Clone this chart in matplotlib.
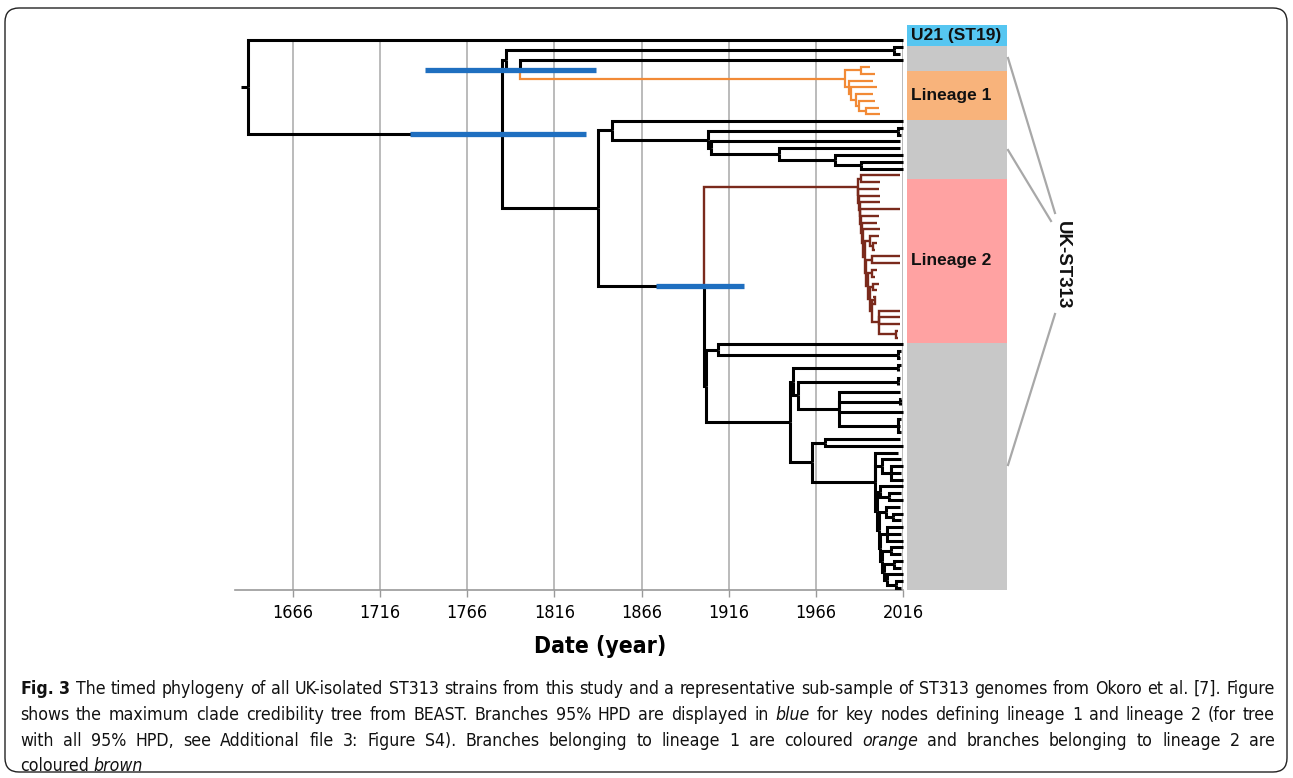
import matplotlib
matplotlib.use('Agg')
import matplotlib.pyplot as plt
from matplotlib import font_manager
from matplotlib.collections import LineCollection
from matplotlib.patches import FancyBboxPatch
from matplotlib.lines import Line2D
from matplotlib.transforms import IdentityTransform

W, H = 1293, 778

# ---------------- data ----------------
tick_years = [1666, 1716, 1766, 1816, 1866, 1916, 1966, 2016]
root_age = 1640
root_stub = 1636

# tips are sampling years, internal nodes are (age, children[, label])
u21 = 2016

lineage1 = (1983, [(1992, [1997, 2000]),
                   (1985, [1999,
                           (1986, [2001,
                                   (1989, [1999,
                                           (1991, [2000,
                                                   (1995, [2002, 2003])])])])])], 'L1')

top_group = (1788, [(2011, [2016, 2014]),
                    (1796, [2016, lineage1], 'D')])

mid_group = (1849, [2016,
                    (1904, [(2013, [2016, 2015]),
                            (1906, [2014,
                                    (1945, [2014,
                                            (1977, [2016,
                                                    (1992, [2016, 2016])])])])])])

# lineage 2: a ladder of single tips, then a nested clade
l2_spine_ages = [1990, 1990.4, 1990.8, 1991.2, 1991.6, 1992, 1992.5, 1993]
l2_spine_tips = [(1992, [2014, 2003]), 2002, 2003, 2003, 2014, 2002, 2001, 2003]
l2_inner = (1994, [
    (1997, [2002, (1999, [2001, 2000])]),
    (1995, [
        (1998, [2014, 2014]),
        (1996, [
            (1998, [2001, 2000]),
            (1997, [
                (1999, [2002, 2001]),
                (1998, [
                    (2000, [1999, 1998]),
                    (2002, [2014, 2014, 2014, (2012, [2013, 2013])])
                ])
            ])
        ])
    ])
])

m_clade = (1910, [2016, (2013, [2015, 2014])])
o_clade = (1953, [(2013, [2015, 2013]),
                  (1956, [(2013, [2014, 2013]),
                          (1979, [2014, (2014, [2015, 2014]), 2016,
                                  (2013, [2015, 2014, 2015])])])])
q_clade = (1971, [2014, 2016])
r_clade = (2000, [2013,
    (2004, [2015, (2009, [2016, 2015, 2016])]),
    (2001, [
        (2003, [2016, (2008, [2015, 2016])]),
        (2002, [
            (2006, [2014, (2010, [2016, 2015])]),
            (2003, [
                (2007, [2016, 2015, 2016]),
                (2004, [
                    (2009, [2016, 2015]),
                    (2005, [
                        (2011, [2016, 2015]),
                        (2007, [2016, (2012, [2016, 2015])])
                    ])
                ])
            ])
        ])
    ])
])

# 95% HPD bars on the key nodes
hpd_nodes = ['D', 'A', 'K']
hpd_lo = [1742, 1733, 1874]
hpd_hi = [1840, 1834, 1925]

# colour bands on the right (edges in tip units)
band_edges = [-2.22, 0.9, 4.6, 11.8, 20.5, 44.8, 81.3]
band_colors = ['#56C6F1', '#C8C8C8', '#F8B37B', '#C8C8C8', '#FFA2A2', '#C8C8C8']
band_labels = ['U21 (ST19)', '', 'Lineage 1', '', 'Lineage 2', '']

caption = [
    [("Fig. 3", 'b'), (" The timed phylogeny of all UK-isolated ST313 strains from this study and a "
                       "representative sub-sample of ST313 genomes from Okoro et al. [7]. Figure", 'n')],
    [("shows the maximum clade credibility tree from BEAST. Branches 95% HPD are displayed in ", 'n'),
     ("blue", 'i'), (" for key nodes defining lineage 1 and lineage 2 (for tree", 'n')],
    [("with all 95% HPD, see Additional file 3: Figure S4). Branches belonging to lineage 1 are coloured ", 'n'),
     ("orange", 'i'), (" and branches belonging to lineage 2 are", 'n')],
    [("coloured ", 'n'), ("brown", 'i')],
]


def comb(ages, tips, tail):
    node = tail
    for age, tip in zip(ages[::-1], tips[::-1]):
        node = (age, [tip, node])
    return node


lineage2 = comb(l2_spine_ages, l2_spine_tips, l2_inner)
lineage2 = (lineage2[0], lineage2[1], 'L2')
lower_group = (1903, [m_clade, (1951, [o_clade, (1964, [q_clade, r_clade])])])
k_node = (1902, [lineage2, lower_group], 'K')
a_node = (1786, [top_group, (1841, [mid_group, k_node])], 'A')
tree = (root_age, [u21, a_node])

# ---------------- fonts ----------------
names = {f.name for f in font_manager.fontManager.ttflist}
if 'Liberation Sans Narrow' in names:
    cap_kw = dict(family='Liberation Sans Narrow')
    tick_size, label_size, cap_size = 15, 22, 14
else:
    cap_kw = dict(family='DejaVu Sans', stretch='condensed')
    tick_size, label_size, cap_size = 13, 16.5, 13.5

# ---------------- figure ----------------
fig = plt.figure(figsize=(W / 100, H / 100), dpi=100)


def px_box(left, top, right, bottom):
    return [left / W, 1 - bottom / H, (right - left) / W, (bottom - top) / H]


ax = fig.add_axes(px_box(235, 40, 903, 590))
ymax = 81.3
ax.set_xlim(1632.7, 2016)
ax.set_ylim(ymax, 0)

colours = {'black': ('#000000', 2.2), 'L1': ('#F28A36', 1.6), 'L2': ('#7A2A1C', 1.7)}
segs, cols, lws = [], [], []
node_xy = {}
tip_counter = [0]


def walk(node, colour):
    if not isinstance(node, tuple):
        y = tip_counter[0]
        tip_counter[0] += 1
        return node, y, colour
    age, kids = node[0], node[1]
    label = node[2] if len(node) > 2 else None
    if label in colours:
        colour = label
    placed = [walk(k, colour) for k in kids]
    y = (placed[0][1] + placed[-1][1]) / 2
    for kx, ky, kc in placed:
        segs.append([(age, y), (age, ky), (kx, ky)])
        cols.append(colours[kc][0])
        lws.append(colours[kc][1])
    if label:
        node_xy[label] = (age, y)
    return age, y, colour


rx, ry, _ = walk(tree, 'black')
segs.append([(root_stub, ry), (rx, ry)])
cols.append('#000000')
lws.append(2.2)

ax.vlines(tick_years, 0, ymax, colors='#b5b5b5', lw=1.3, zorder=0)
ax.add_collection(LineCollection(segs, colors=cols, linewidths=lws, joinstyle='miter',
                                 capstyle='butt', clip_on=False, zorder=3))
for lab, lo, hi in zip(hpd_nodes, hpd_lo, hpd_hi):
    ax.hlines(node_xy[lab][1], lo, hi, colors='#1F6FC0', lw=3.8, zorder=5, clip_on=False)

for s in ['top', 'left', 'right']:
    ax.spines[s].set_visible(False)
ax.spines['bottom'].set_color('#999999')
ax.spines['bottom'].set_linewidth(1.2)
ax.set_yticks([])
ax.set_xticks(tick_years)
ax.set_xticklabels([str(t) for t in tick_years], **cap_kw)
ax.tick_params(axis='x', length=5, width=1, color='#999999', pad=5, labelsize=tick_size)
ax.patch.set_visible(False)

fig.text(600 / W, 1 - 646 / H, 'Date (year)', ha='center', va='center',
         fontsize=label_size, weight='bold', **cap_kw)

# colour bands
bx = fig.add_axes(px_box(907, 25, 1007, 590))
bx.set_xlim(0, 1)
bx.set_ylim(ymax, band_edges[0])
bx.axis('off')
for lo, hi, c, lab in zip(band_edges[:-1], band_edges[1:], band_colors, band_labels):
    bx.axhspan(lo, hi, color=c, lw=0)
    if lab:
        bx.text(0.04, (lo + hi) / 2, lab, ha='left', va='center', fontsize=12.5,
                weight='bold', family='Liberation Sans', color='#111111')

fig.text(1062 / W, 1 - 265 / H, 'UK-ST313', rotation=-90, ha='center', va='center',
         fontsize=13.5, weight='bold', family='Liberation Sans', color='#111111')
for (x0, y0), (x1, y1) in [((1008, 58), (1055, 213)), ((1008, 150), (1051, 221)),
                           ((1008, 465), (1055, 314))]:
    fig.add_artist(Line2D([x0, x1], [H - y0, H - y1], transform=IdentityTransform(),
                          color='#a8a8a8', lw=1.6))

# rounded frame
fig.add_artist(FancyBboxPatch((5, 6), 1282, 764, boxstyle='round,pad=0,rounding_size=14',
                              transform=IdentityTransform(), fill=False, ec='#222222', lw=1.0))

# caption, justified like the journal layout
renderer = fig.canvas.get_renderer()


def style_kw(style):
    kw = dict(cap_kw)
    if style == 'b':
        kw['weight'] = 'bold'
    if style == 'i':
        kw['style'] = 'italic'
    return kw


def text_width(s, size, style):
    t = fig.text(0, 0, s, fontsize=size, **style_kw(style))
    w = t.get_window_extent(renderer).width
    t.remove()
    return w


def line_words(runs):
    words = []
    for text, style in runs:
        for w in text.split():
            words.append((w, style))
    return words


x_left, x_right = 20, 1275
first = line_words(caption[0])
space = text_width('x x', cap_size, 'n') - text_width('xx', cap_size, 'n')
natural = sum(text_width(w, cap_size, s) for w, s in first) + space * (len(first) - 1)
if natural > x_right - x_left:
    cap_size *= (x_right - x_left) / natural * 0.99
    space = text_width('x x', cap_size, 'n') - text_width('xx', cap_size, 'n')

baselines = [694, 720, 746, 771]
for i, runs in enumerate(caption):
    words = line_words(runs)
    widths = [text_width(w, cap_size, s) for w, s in words]
    justify = i < len(caption) - 1
    gap = (x_right - x_left - sum(widths)) / (len(words) - 1) if justify else space
    x = x_left
    for (w, s), wd in zip(words, widths):
        fig.text(x / W, 1 - baselines[i] / H, w, fontsize=cap_size, ha='left',
                 va='baseline', color='#111111', **style_kw(s))
        x += wd + gap

fig.savefig('out.png', dpi=100)
